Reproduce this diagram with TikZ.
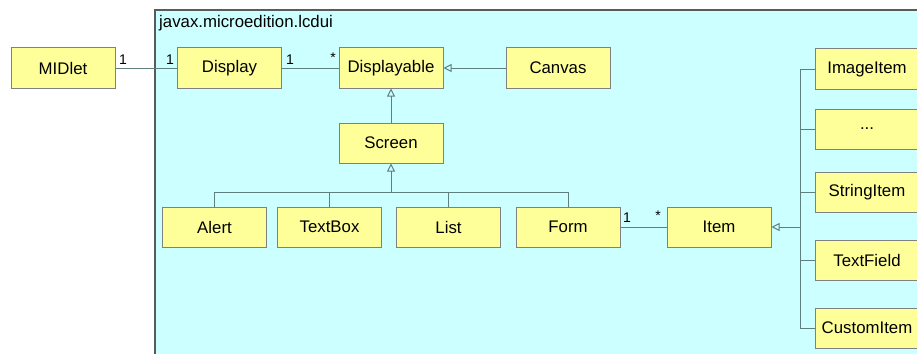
\documentclass[tikz,border=0pt]{standalone}
\usepackage{fontspec}
\setmainfont{Liberation Sans}
\usetikzlibrary{arrows.meta}
\definecolor{pkgfill}{HTML}{CCFFFF}
\definecolor{pkgline}{HTML}{5A5A5A}
\definecolor{clsfill}{HTML}{FFFF99}
\definecolor{clsline}{HTML}{808080}
\definecolor{wire}{HTML}{5F7F7F}
\tikzset{
  cls/.style={draw=clsline, line width=1pt, fill=clsfill, minimum width=104pt,
    minimum height=40pt, inner sep=0pt, font=\fontsize{16.8}{19}\selectfont},
  assoc/.style={draw=wire, line width=1pt},
  gen/.style={draw=wire, line width=1pt, -{Triangle[open, width=8pt, length=8pt]}},
  mult/.style={inner sep=0pt, font=\fontsize{14}{16}\selectfont},
}
\begin{document}
\begin{tikzpicture}[x=1pt, y=-1pt]
\useasboundingbox (0,0) rectangle (917,353);
\clip (0,0) rectangle (917,353);
\fill[white] (0,0) rectangle (917,353);
% package frame
\draw[fill=pkgfill, draw=pkgline, line width=2pt] (155,10) rectangle (940,380);
\node[anchor=base west, inner sep=0pt, font=\fontsize{16.8}{19}\selectfont] (pkg) at (159,28) {javax.microedition.lcdui};
% classes
\node[cls] (midlet) at (63,68) {MIDlet};
\node[cls] (display) at (229.5,68) {Display};
\node[cls] (displayable) at (391,68) {Displayable};
\node[cls] (canvas) at (558,68) {Canvas};
\node[cls] (screen) at (391,143) {Screen};
\node[cls] (alert) at (214.5,227) {Alert};
\node[cls] (textbox) at (329.5,227) {TextBox};
\node[cls] (list) at (448.5,227) {List};
\node[cls] (form) at (568,227) {Form};
\node[cls] (item) at (719,227) {Item};
\node[cls] (imageitem) at (867,69) {ImageItem};
\node[cls] (dots) at (867,129) {...};
\node[cls] (stringitem) at (867,192) {StringItem};
\node[cls] (textfield) at (867,260.5) {TextField};
\node[cls] (customitem) at (867,328) {CustomItem};
% associations
\draw[assoc] (midlet.east) -- (display.west);
\draw[assoc] (display.east) -- (displayable.west);
\draw[assoc] (form.east) -- (item.west);
\node[mult] (m1) at (123,60) {1};
\node[mult] (m2) at (170,60) {1};
\node[mult] (m3) at (290,60) {1};
\node[mult] (m4) at (333,58) {*};
\node[mult] (m5) at (627,218) {1};
\node[mult] (m6) at (658,216) {*};
% generalizations
\draw[gen] (canvas.west) -- (displayable.east);
\draw[gen] (screen.north) -- (displayable.south);
\coordinate (bus) at (391,192);
\draw[gen] (bus) -- (screen.south);
\draw[assoc] (alert.north) -- (alert.north |- bus) -- (form.north |- bus) -- (form.north);
\draw[assoc] (textbox.north) -- (textbox.north |- bus);
\draw[assoc] (list.north) -- (list.north |- bus);
\coordinate (trunk) at (800,227);
\draw[gen] (trunk) -- (item.east);
\draw[assoc] (imageitem.west) -- (imageitem.west -| trunk) -- (customitem.west -| trunk) -- (customitem.west);
\draw[assoc] (dots.west) -- (dots.west -| trunk);
\draw[assoc] (stringitem.west) -- (stringitem.west -| trunk);
\draw[assoc] (textfield.west) -- (textfield.west -| trunk);
\end{tikzpicture}
\end{document}
